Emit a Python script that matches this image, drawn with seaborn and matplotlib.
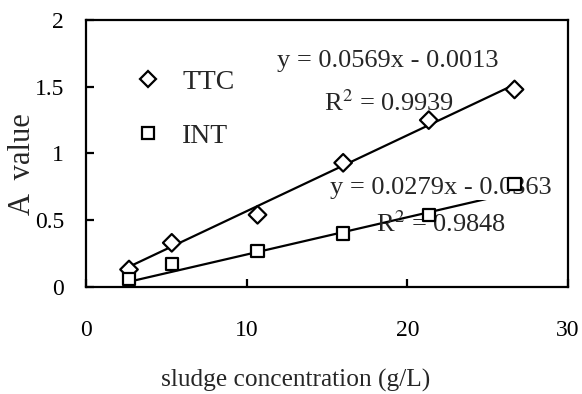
import matplotlib
matplotlib.use("Agg")
import matplotlib.pyplot as plt
import seaborn as sns
import numpy as np
import pandas as pd

conc = [2.67, 5.33, 10.67, 16.0, 21.33, 26.67]
ttc = [0.13, 0.33, 0.54, 0.93, 1.25, 1.48]
int_vals = [0.06, 0.17, 0.27, 0.40, 0.54, 0.77]

ttc_fit = (0.0569, -0.0013)
int_fit = (0.0279, -0.0363)

sns.set_theme(style="white")
plt.rcParams["font.family"] = ["Liberation Serif", "DejaVu Serif"]
plt.rcParams["mathtext.fontset"] = "stix"

fig = plt.figure(figsize=(5.82, 3.94), dpi=100)
ax = fig.add_axes([0.148, 0.272, 0.828, 0.677])

df = pd.DataFrame({"conc": conc + conc, "A": ttc + int_vals,
                   "kind": ["TTC"] * 6 + ["INT"] * 6})

# fitted trend lines from the printed equations
x = np.array(conc)
ax.plot(x, ttc_fit[0] * x + ttc_fit[1], color="black", lw=1.6, zorder=2)
ax.plot(x, int_fit[0] * x + int_fit[1], color="black", lw=1.6, zorder=2)

sns.scatterplot(data=df, x="conc", y="A", style="kind", hue="kind",
                palette={"TTC": "white", "INT": "white"},
                markers={"TTC": "D", "INT": "s"}, s=80, edgecolor="black",
                linewidth=1.6, zorder=4, ax=ax)

ax.text(18.8, 1.69, "y = 0.0569x - 0.0013", fontsize=19, ha="center",
        va="center", zorder=3)
ax.text(18.85, 1.38, "R$^2$ = 0.9939", fontsize=19, ha="center",
        va="center", zorder=3)
ax.text(22.1, 0.74, "y = 0.0279x - 0.0363", fontsize=19, ha="center",
        va="center", zorder=3,
        bbox=dict(facecolor="white", edgecolor="none", pad=0.5))
ax.text(22.1, 0.47, "R$^2$ = 0.9848", fontsize=19, ha="center",
        va="center", zorder=3)

handles, labels = ax.get_legend_handles_labels()
ax.legend(handles, labels, loc="upper left", bbox_to_anchor=(0.047, 0.91),
          frameon=False, fontsize=20, handletextpad=0.75, labelspacing=1.05,
          handlelength=1.0, markerscale=0.9)

ax.set_xlim(0, 30)
ax.set_ylim(0, 2)
ax.set_xticks([0, 10, 20, 30])
ax.set_yticks([0, 0.5, 1, 1.5, 2])
ax.set_xticklabels(["0", "10", "20", "30"])
ax.set_yticklabels(["0", "0.5", "1", "1.5", "2"])
ax.tick_params(axis="both", direction="in", length=6, width=1.6,
               labelsize=17, colors="black")
ax.tick_params(axis="x", pad=24, bottom=True)
ax.tick_params(axis="y", pad=16, left=True)
for sp in ax.spines.values():
    sp.set_color("black")
    sp.set_linewidth(1.6)

ax.set_xlabel("sludge concentration (g/L)", fontsize=18.3)
ax.xaxis.set_label_coords(0.434, -0.307)
ax.set_ylabel("A  value", fontsize=22)
ax.yaxis.set_label_coords(-0.103, 0.46)

fig.savefig("out.png", dpi=100)
